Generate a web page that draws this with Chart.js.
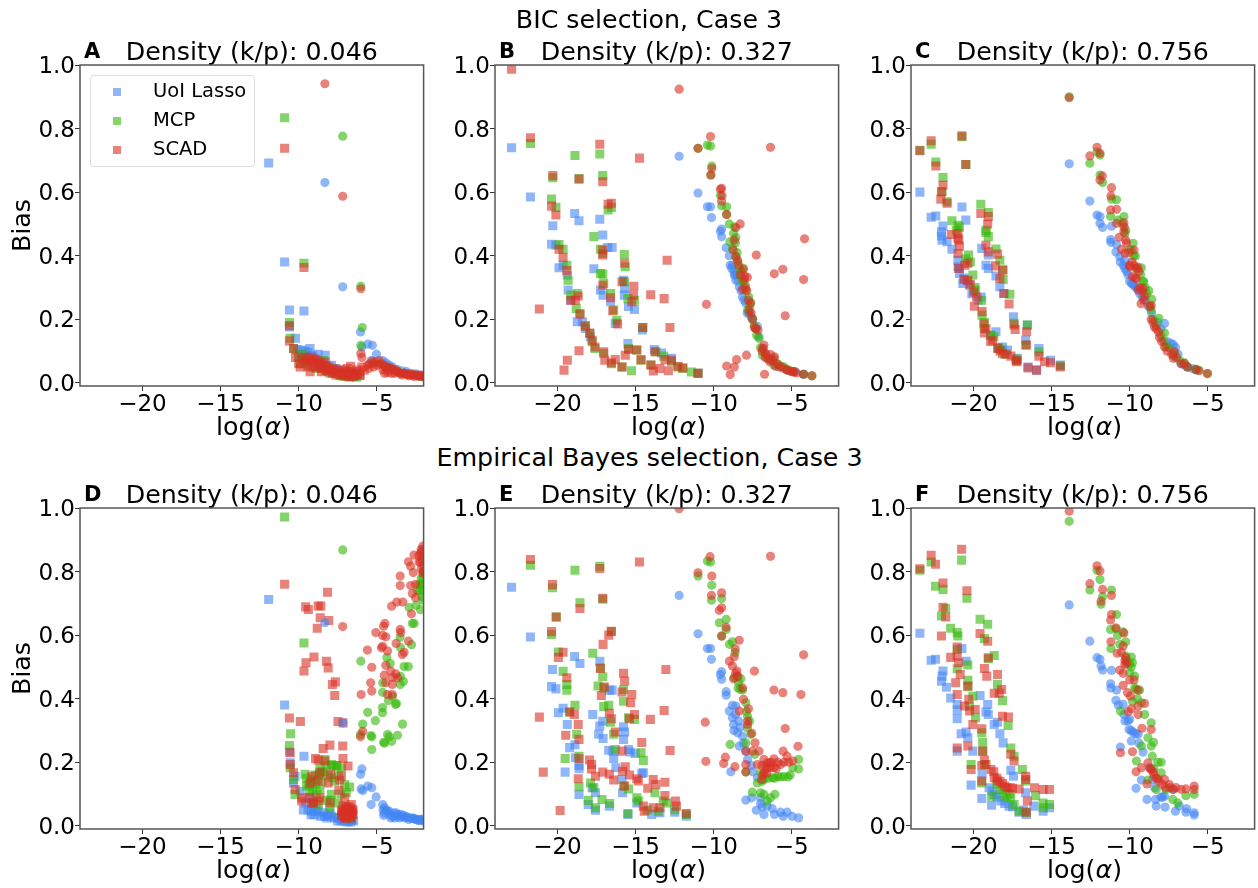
<!DOCTYPE html>
<html>
<head>
<meta charset="utf-8">
<title>Bias vs log(alpha)</title>
<script src="https://cdn.jsdelivr.net/npm/chart.js@4/dist/chart.umd.min.js"></script>
<style>
  html, body { margin: 0; padding: 0; background: #fff; }
  #page { position: relative; width: 1258px; height: 888px; overflow: hidden; font-family: 'DejaVu Sans', sans-serif; color: #000; }
  #page canvas { position: absolute; }
  .txt { position: absolute; white-space: nowrap; }
  .heading { font-size: 25.3px; line-height: 30px; transform: translateX(-50%); }
  .letter { font-size: 21px; line-height: 25px; font-weight: bold; }
  #legend { position: absolute; left: 90px; top: 75px; width: 163px; height: 90px; border: 1px solid #ddd; border-radius: 4px; background: rgba(255,255,255,.8); }
  .swatch { position: absolute; left: 22px; width: 8px; height: 8px; }
  .legtxt { position: absolute; left: 62px; font-size: 19.5px; line-height: 24px; white-space: nowrap; }
</style>
</head>
<body>
<div id="page"></div>
<script>
// Axis setup
const xRange = [-24, -2];
const yRange = [-0.01, 1];
const xTicks = [-20, -15, -10, -5];
const yTicks = [0, 0.2, 0.4, 0.6, 0.8, 1];
const seriesNames = ['UoI Lasso', 'MCP', 'SCAD'];
const seriesColors = ['rgba(66,133,244,0.6)', 'rgba(52,184,8,0.6)', 'rgba(217,48,37,0.6)'];
const densities = ['0.046', '0.327', '0.756', '0.046', '0.327', '0.756'];
const letters = ['A', 'B', 'C', 'D', 'E', 'F'];
const rowTitles = ['BIC selection, Case 3', 'Empirical Bayes selection, Case 3'];

// Panel A, [log(alpha), bias]
const aUoiSq = [[-11.92,.692],[-10.9,.38],[-10.59,.229],[-9.66,.226],[-10.59,.176],[-10.2,.14],[-10.1,.105],[-9.8,.103],[-9.6,.1],[-9.27,.108],[-9.4,.095],[-9.1,.085],[-8.75,.09],[-8.9,.075],[-8.6,.07],[-8.3,.087],[-8.2,.055],[-7.9,.055],[-7.6,.045],[-7.2,.035],[-6.9,.03],[-6.6,.028],[-6.3,.03],[-9.95,.09],[-9.7,.085],[-9.45,.08],[-9.2,.07],[-8.95,.06],[-8.7,.055],[-8.45,.05],[-8.05,.045],[-7.75,.04],[-7.4,.03],[-7,.025],[-6.45,.025]];
const aMcpSq = [[-10.9,.834],[-9.66,.376],[-10.59,.19],[-10.55,.14],[-10.33,.108],[-10,.08],[-9.8,.09],[-9.5,.075],[-9.2,.07],[-8.8,.065],[-8.4,.07],[-8.1,.045],[-7.8,.035],[-7.5,.03],[-7.2,.025],[-6.9,.022],[-6.5,.02],[-6.1,.022],[-9.9,.06],[-9.6,.06],[-9.35,.055],[-9.05,.05],[-8.85,.045],[-8.6,.05],[-8.3,.04],[-8,.03],[-7.7,.03],[-7.35,.022],[-7.05,.02],[-6.75,.018],[-6.3,.018]];
const aScadSq = [[-10.9,.738],[-9.66,.363],[-10.59,.18],[-10.59,.132],[-10.33,.108],[-10.2,.08],[-9.9,.05],[-9.6,.08],[-9.3,.07],[-9.27,.035],[-9,.075],[-8.7,.065],[-8.5,.045],[-8.3,.065],[-8.2,.04],[-7.9,.04],[-7.6,.035],[-7.2,.03],[-7,.028],[-6.9,.045],[-6.67,.052],[-6.7,.03],[-6.4,.025],[-6.1,.035],[-5.8,.04],[-10,.06],[-9.75,.075],[-9.5,.065],[-9.4,.05],[-9.2,.08],[-9.1,.06],[-8.95,.05],[-8.85,.07],[-8.75,.05],[-8.6,.06],[-8.55,.035],[-8.4,.055],[-8.25,.05],[-8.1,.035],[-8.05,.05],[-7.85,.03],[-7.75,.045],[-7.6,.025],[-7.45,.04],[-7.35,.025],[-7.15,.04],[-7.1,.022],[-6.95,.035],[-6.8,.02],[-6.6,.035],[-6.55,.02],[-6.3,.04],[-6.25,.025],[-6.05,.025],[-5.95,.05]];
const aUoiCi = [[-8.32,.63],[-7.18,.302],[-6.04,.16],[-5.95,.113],[-5.57,.122],[-5.28,.118],[-5.02,.09],[-5.36,.07],[-4.62,.07],[-4.4,.062],[-4.2,.055],[-4,.05],[-3.7,.042],[-3.4,.038],[-3.1,.035],[-2.8,.03],[-2.5,.028],[-2.2,.024],[-2,.02]];
const aMcpCi = [[-7.18,.776],[-6.02,.304],[-5.93,.174],[-6.02,.118],[-5.2,.06],[-4.8,.06],[-4.5,.05],[-4.2,.045],[-3.9,.04],[-3.6,.034],[-3.3,.03],[-3,.026],[-2.7,.024],[-2.4,.022],[-2.1,.019]];
const aScadCi = [[-8.32,.941],[-7.18,.587],[-6.02,.296],[-6.02,.092],[-5.95,.08],[-5.6,.055],[-5.3,.068],[-5.1,.065],[-4.7,.06],[-4.6,.04],[-4.4,.05],[-4.3,.032],[-4.1,.045],[-3.8,.04],[-3.6,.032],[-3.3,.03],[-3,.028],[-2.8,.025],[-2.5,.024],[-2.2,.021],[-2,.02],[-5.5,.045],[-5.45,.06],[-5.2,.05],[-4.95,.055],[-4.85,.07],[-4.55,.055],[-4.5,.03],[-4.35,.04],[-4.2,.048],[-4.05,.03],[-3.95,.042],[-3.85,.03],[-3.7,.036],[-3.5,.03],[-3.4,.025],[-3.2,.03],[-3.1,.026],[-2.95,.022],[-2.7,.026],[-2.6,.02],[-2.4,.024],[-2.3,.02],[-2.1,.024]];

// Panel B
const bUoiSq = [[-22.94,.74],[-21.73,.585],[-20.3,.494],[-20.38,.436],[-20.1,.433],[-19.9,.362],[-19.64,.37],[-19.37,.339],[-19.32,.292],[-19.15,.26],[-18.73,.192],[-18.4,.192],[-18.9,.533],[-18.62,.51],[-17.29,.515],[-17.1,.465],[-16.78,.426],[-16.5,.426],[-17.67,.359],[-17.25,.292],[-17.08,.276],[-16.6,.255],[-16.3,.187],[-15.77,.323],[-15.7,.297],[-15.72,.276],[-15.45,.24],[-15.07,.231],[-15.49,.124],[-14.56,.166],[-13.8,.105],[-13.34,.094],[-12.7,.077],[-11,.03],[-18.2,.171],[-17.9,.145]];
const bMcpSq = [[-21.73,.753],[-20.3,.645],[-20.38,.578],[-20.1,.552],[-19.9,.435],[-19.64,.42],[-19.4,.37],[-19.32,.323],[-19.15,.276],[-18.73,.281],[-18.8,.234],[-18.56,.218],[-18.88,.715],[-18.62,.643],[-17.29,.72],[-17.1,.652],[-16.76,.544],[-16.55,.552],[-17.67,.46],[-17.25,.42],[-17.1,.407],[-17.25,.344],[-17.1,.342],[-17.04,.313],[-16.6,.281],[-16.4,.229],[-16.2,.197],[-15.72,.404],[-15.66,.365],[-15.7,.318],[-15.49,.265],[-15.07,.26],[-14.54,.174],[-15.26,.038],[-11.43,.034],[-11,.03],[-18.2,.18],[-17.93,.155],[-17.78,.129],[-17.6,.108],[-17.04,.092],[-16.55,.06],[-15.87,.05],[-15.45,.108],[-14.92,.103],[-14.65,.071],[-14,.056],[-13.7,.098],[-13.2,.084],[-12.7,.066],[-12.3,.05],[-12,.045]];
const bScadSq = [[-22.94,.987],[-21.73,.771],[-20.3,.652],[-20.38,.556],[-20.1,.528],[-21.16,.232],[-19.9,.42],[-19.64,.395],[-19.4,.353],[-19.58,.04],[-19.37,.071],[-18.62,.101],[-19.15,.26],[-18.67,.273],[-18.85,.26],[-18.56,.216],[-18.62,.641],[-17.29,.751],[-17.1,.633],[-16.55,.565],[-16.76,.562],[-14.75,.707],[-17.1,.418],[-17.1,.402],[-17.1,.307],[-16.6,.268],[-16.46,.227],[-16.15,.185],[-15.87,.318],[-15.7,.376],[-15.11,.304],[-15.13,.276],[-15.24,.255],[-14.03,.277],[-13.17,.265],[-12.98,.386],[-12.8,.174],[-14.54,.174],[-15.66,.087],[-16.3,.073],[-15.87,.05],[-17.93,.157],[-18.24,.178],[-17.78,.134],[-17.6,.113],[-17.04,.098],[-16.97,.071],[-16.55,.063],[-15.45,.105],[-14.92,.103],[-14.65,.073],[-14.03,.056],[-13.76,.098],[-13.86,.037],[-13.45,.045],[-12.9,.038],[-13.12,.073],[-12.7,.071],[-12.28,.052],[-11.96,.047],[-11,.03]];
const bUoiCi = [[-12.21,.713],[-11,.597],[-10.4,.554],[-10.2,.554],[-10.14,.52],[-9.57,.477],[-9.49,.484],[-9.49,.46],[-9.2,.425],[-8.94,.37],[-8.8,.37],[-8.68,.339],[-8.58,.323],[-8.36,.302],[-8.15,.27],[-7.94,.25],[-7.73,.218],[-7.62,.21],[-7.2,.178],[-7.1,.145],[-6.8,.108],[-6.36,.077],[-5.83,.05],[-5.3,.04],[-4.77,.035],[-4.24,.027],[-9,.4],[-8.85,.36],[-8.7,.35],[-8.6,.34],[-8.4,.32],[-8.25,.29],[-8.05,.26],[-7.85,.22],[-7.5,.2],[-7.3,.17]];
const bMcpCi = [[-11,.738],[-10.4,.748],[-10.2,.745],[-10.12,.682],[-10.18,.654],[-9.57,.59],[-9.49,.557],[-9.17,.554],[-9.17,.53],[-8.68,.491],[-8.72,.47],[-8.58,.457],[-8.96,.444],[-8.8,.423],[-8.58,.397],[-8.36,.36],[-8.09,.36],[-8.26,.334],[-7.94,.292],[-7.62,.252],[-7.83,.229],[-7.52,.203],[-7.31,.171],[-7.1,.14],[-6.88,.087],[-6.57,.077],[-6.14,.077],[-6.14,.056],[-5.5,.05],[-4.87,.035],[-4.24,.027],[-3.71,.022],[-9,.5],[-8.6,.44],[-8.5,.41],[-8.45,.38],[-8.25,.35],[-8.15,.32],[-8,.31],[-7.75,.27],[-7.7,.24],[-7.4,.18],[-7.25,.15],[-7,.11],[-6.7,.09],[-6.3,.07],[-5.9,.06],[-5.7,.052],[-5.3,.042],[-5.1,.038]];
const bScadCi = [[-12.21,.924],[-11,.738],[-10.2,.775],[-10.12,.675],[-10.18,.654],[-9.57,.609],[-9.49,.612],[-9.46,.589],[-9.49,.572],[-9.17,.53],[-8.3,.5],[-8.58,.488],[-8.68,.449],[-8.75,.418],[-8.58,.397],[-8.47,.386],[-8.11,.357],[-7.84,.332],[-8.05,.325],[-8.15,.294],[-7.88,.29],[-7.77,.26],[-7.73,.227],[-7.52,.2],[-7.31,.171],[-7.16,.166],[-6.78,.119],[-6.88,.108],[-6.67,.092],[-6.36,.089],[-6.1,.082],[-6.4,.066],[-6.04,.052],[-5.5,.045],[-4.87,.035],[-4.7,.031],[-4.24,.027],[-3.71,.022],[-10.46,.247],[-9.17,.053],[-8.68,.05],[-8.53,.073],[-8.94,.026],[-7.9,.087],[-6.74,.027],[-6.36,.741],[-4.18,.453],[-7.27,.402],[-6.12,.343],[-5.57,.357],[-4.24,.325],[-5.42,.211],[-8.4,.37],[-8.3,.34],[-8,.335],[-7.95,.3],[-7.65,.25],[-7.6,.22],[-7.4,.175],[-6.9,.1],[-6.7,.08],[-6.5,.075],[-6.2,.07],[-5.9,.058],[-5.7,.05],[-5.3,.04],[-5.1,.037],[-4.95,.034]];

// Panel C
const cUoiSq = [[-23.43,.6],[-22.71,.521],[-22.41,.525],[-21.95,.493],[-22.05,.475],[-22.01,.449],[-22.05,.462],[-21.69,.444],[-21.38,.42],[-20.74,.553],[-20.49,.512],[-20.99,.386],[-20.99,.365],[-20.89,.344],[-20.68,.313],[-20.25,.307],[-19.51,.27],[-19.47,.423],[-19.05,.402],[-19.2,.37],[-19.05,.36],[-18.56,.336],[-18.31,.302],[-18.03,.281],[-17.44,.208],[-18.56,.161],[-18.14,.113],[-17.82,.103],[-17.19,.077],[-16.55,.182],[-16.66,.134],[-15.81,.108],[-15.07,.071],[-14.44,.056],[-16.51,.05],[-15.96,.04],[-20.9,.36],[-20.6,.33],[-20.4,.32],[-20.1,.28],[-19.7,.26],[-18.9,.15],[-18.4,.11]];
const cMcpSq = [[-23.43,.732],[-22.71,.751],[-22.41,.695],[-21.95,.646],[-22.01,.601],[-21.69,.57],[-21.38,.51],[-20.99,.496],[-20.74,.774],[-20.49,.687],[-19.53,.562],[-19.05,.536],[-19.2,.473],[-19.05,.46],[-18.56,.421],[-18.31,.386],[-18.1,.355],[-18.1,.325],[-17.67,.279],[-20.32,.402],[-20.04,.339],[-19.89,.292],[-19.47,.26],[-19.45,.213],[-19.3,.171],[-18.7,.145],[-18.24,.103],[-17.4,.187],[-16.55,.182],[-16.66,.119],[-15.81,.098],[-17.19,.071],[-14.44,.054],[-21.1,.48],[-20.9,.49],[-20.5,.39],[-20.2,.38],[-19.9,.3],[-19.3,.19],[-18.9,.15],[-18.4,.11],[-18,.09],[-17.3,.075],[-19.2,.48]];
const cScadSq = [[-23.43,.73],[-22.71,.762],[-22.41,.682],[-21.95,.622],[-22.05,.601],[-22.09,.578],[-21.69,.565],[-21.42,.467],[-20.99,.47],[-20.95,.449],[-20.99,.407],[-20.74,.777],[-20.49,.687],[-19.53,.533],[-19.05,.523],[-19.09,.5],[-19.2,.433],[-19.05,.412],[-18.46,.405],[-18.6,.368],[-18.14,.355],[-18.31,.328],[-18.07,.281],[-17.72,.248],[-20.36,.376],[-20.95,.36],[-20.61,.325],[-20.36,.323],[-19.98,.286],[-19.94,.241],[-19.45,.224],[-19.34,.185],[-19.3,.157],[-18.77,.134],[-18.46,.108],[-18.14,.092],[-17.6,.084],[-17.23,.066],[-17.4,.182],[-17.33,.168],[-16.6,.161],[-16.6,.119],[-15.81,.084],[-16.51,.047],[-15.96,.04],[-15.45,.066],[-15.07,.063],[-14.44,.05],[-21,.455],[-20.9,.43],[-20.55,.37],[-20.2,.31],[-19.8,.27],[-19.2,.17],[-18.9,.13],[-18.3,.1],[-17.9,.09],[-17.25,.07]];
const cUoiCi = [[-13.87,.689],[-12.55,.572],[-12.09,.528],[-11.9,.523],[-11.9,.502],[-11.73,.489],[-11.16,.493],[-11.22,.451],[-11.2,.442],[-10.84,.435],[-10.88,.412],[-10.63,.397],[-10.31,.386],[-10.31,.36],[-9.89,.313],[-9.68,.304],[-9.46,.292],[-7.77,.187],[-7.35,.124],[-7.07,.111],[-6.5,.056],[-5.76,.04],[-10.6,.38],[-10.4,.37],[-10.2,.35],[-10.1,.34],[-10,.32],[-9.8,.31],[-9.55,.3],[-9.35,.28],[-9.2,.27],[-9,.26],[-8.8,.24],[-8.6,.22],[-8.2,.19],[-8,.17],[-7.6,.13],[-7.2,.12],[-6.9,.09],[-6.7,.06],[-6.3,.05],[-6,.045]];
const cMcpCi = [[-13.87,.9],[-12.55,.691],[-12.09,.727],[-11.9,.717],[-11.9,.654],[-11.73,.63],[-11.16,.578],[-10.84,.576],[-11.22,.524],[-10.73,.512],[-10.37,.523],[-10.25,.48],[-9.78,.439],[-9.89,.418],[-9.63,.399],[-9.25,.362],[-9.1,.318],[-8.77,.29],[-8.58,.263],[-8.62,.229],[-8.13,.203],[-7.77,.157],[-7.67,.113],[-7.14,.092],[-6.5,.063],[-5.76,.042],[-5.02,.029],[-10.45,.5],[-10.3,.47],[-10,.42],[-9.75,.4],[-9.55,.36],[-9.3,.34],[-9.15,.32],[-9,.3],[-8.9,.28],[-8.7,.24],[-8.5,.2],[-8.3,.18],[-8,.15],[-7.8,.13],[-7.5,.11],[-7.2,.085],[-6.8,.07],[-6.3,.05],[-5.6,.04]];
const cScadCi = [[-13.87,.897],[-12.55,.714],[-12.09,.741],[-11.9,.722],[-11.75,.651],[-11.9,.638],[-11.16,.614],[-11.2,.588],[-11.22,.544],[-10.84,.546],[-10.84,.502],[-10.67,.458],[-10.37,.504],[-10.37,.475],[-10.25,.449],[-10.52,.42],[-9.72,.418],[-10,.37],[-9.46,.363],[-9.82,.334],[-9.57,.328],[-9.14,.297],[-9.46,.292],[-9.04,.273],[-9.27,.249],[-8.62,.244],[-8.62,.199],[-8.41,.176],[-8.09,.143],[-7.77,.113],[-7.14,.098],[-7.2,.077],[-6.5,.061],[-5.76,.042],[-5.55,.038],[-5.02,.029],[-10.3,.408],[-10,.365],[-10.35,.49],[-10.2,.44],[-10.05,.41],[-9.85,.38],[-9.7,.37],[-9.6,.36],[-9.4,.35],[-9.65,.33],[-9.35,.3],[-9.2,.29],[-9.1,.26],[-8.7,.24],[-8.5,.19],[-8.3,.17],[-8.15,.16],[-7.95,.13],[-7.6,.1],[-7.3,.09],[-7,.08],[-6.7,.06],[-6.3,.05]];

// Panel D
const dUoiSq = [[-11.92,.712],[-10.9,.38],[-10.59,.232],[-9.66,.219],[-10.54,.198],[-10.23,.156],[-10.33,.135],[-9.9,.109],[-9.59,.072],[-9.17,.046],[-9.27,.088],[-8.75,.046],[-8.43,.041],[-7.9,.03],[-7.16,.02],[-6.63,.017],[-6.48,.015],[-7.05,.015],[-9.06,.062],[-8.11,.032],[-7.5,.025],[-9.7,.05],[-9.4,.05],[-9.2,.035],[-9,.035],[-8.9,.05],[-8.6,.03],[-8.35,.03],[-8.2,.025],[-8,.04],[-7.7,.025],[-7.5,.015],[-7.3,.015],[-6.9,.012],[-6.7,.012],[-6.6,.02]];
const dMcpSq = [[-10.9,.972],[-9.66,.575],[-10.52,.29],[-10.59,.253],[-10.54,.183],[-10.33,.146],[-10.23,.099],[-9.59,.162],[-9.49,.125],[-9.06,.072],[-9.06,.145],[-8.64,.183],[-8.32,.209],[-7.9,.193],[-7.58,.188],[-7.26,.183],[-7.9,.151],[-7.05,.13],[-6.74,.122],[-6.95,.104],[-7.9,.099],[-8.64,.114],[-8,.057],[-7.48,.072],[-7.16,.041],[-6.63,.03],[-6.84,.025],[-8.75,.068],[-9.3,.11],[-9.2,.14],[-8.9,.13],[-8.85,.1],[-8.5,.14],[-8.45,.17],[-8.2,.19],[-8.1,.16],[-7.7,.14],[-7.45,.16],[-6.95,.05],[-6.7,.035],[-7.3,.1],[-9.5,.15],[-9.35,.13],[-9.1,.115],[-8.95,.16],[-8.7,.16],[-8.55,.17],[-8.2,.08],[-7.95,.08],[-7.55,.19],[-7.8,.19]];
const dScadSq = [[-10.9,.76],[-8.15,.735],[-9.55,.689],[-9.38,.681],[-8.75,.692],[-8.58,.692],[-8.62,.655],[-8.07,.646],[-8.81,.622],[-9.02,.531],[-9.53,.513],[-9.66,.487],[-8.22,.518],[-8.11,.497],[-7.65,.453],[-7.84,.445],[-7.69,.41],[-7.48,.328],[-7.16,.324],[-10.59,.339],[-9.89,.328],[-10.54,.23],[-8.43,.243],[-8,.254],[-7.18,.251],[-7.16,.212],[-8.92,.212],[-8.75,.207],[-8.32,.204],[-6.84,.188],[-10.54,.193],[-10.33,.167],[-10.23,.114],[-9.17,.156],[-9.27,.135],[-8.64,.167],[-8.75,.141],[-7.96,.162],[-8.11,.135],[-7.26,.156],[-7.37,.144],[-7.43,.112],[-9.8,.078],[-9.8,.088],[-9.27,.088],[-9.17,.072],[-8.64,.088],[-8.75,.078],[-9.06,.072],[-8,.072],[-7.05,.088],[-7.16,.062],[-6.63,.067],[-6.95,.051],[-6.52,.051],[-7.26,.046],[-6.84,.036],[-6.52,.036],[-7.05,.025],[-7.26,.033],[-6.63,.025],[-6.95,.06],[-6.75,.045],[-7.2,.05],[-7.1,.04],[-7,.055],[-6.9,.035],[-6.85,.05],[-6.8,.06],[-6.7,.03],[-6.65,.055],[-6.6,.04],[-7.15,.03],[-7,.03],[-6.95,.025],[-6.7,.045],[-6.55,.045]];
const dUoiCi = [[-8.32,.639],[-7.16,.324],[-6.04,.162],[-5.95,.179],[-6,.116],[-5.89,.111],[-5.57,.125],[-5.32,.12],[-5.04,.091],[-5.36,.067],[-4.62,.067],[-4.51,.057],[-4.56,.033],[-4.2,.046],[-3.98,.03],[-3.77,.041],[-3.46,.036],[-3.14,.03],[-2.82,.025],[-2.5,.02],[-2.2,.02],[-2.05,.018],[-4.4,.05],[-3.6,.03],[-3.3,.033],[-2.65,.024],[-4.6,.05],[-4.5,.04],[-4.3,.045],[-4.15,.035],[-4.1,.025],[-3.9,.04],[-3.85,.025],[-3.65,.035],[-3.55,.025],[-3.4,.03],[-3.2,.025],[-3.05,.027],[-2.95,.02],[-2.75,.023],[-2.6,.022],[-2.4,.02],[-2.35,.017],[-2.25,.017],[-2.1,.02],[-2.02,.015]];
const dMcpCi = [[-7.18,.868],[-6.02,.518],[-3.5,.593],[-2.93,.687],[-2.49,.694],[-2.72,.637],[-2.6,.637],[-2.77,.57],[-3.48,.561],[-4.35,.53],[-4.14,.511],[-3.25,.501],[-2.98,.501],[-3.48,.47],[-3.29,.454],[-3.5,.445],[-4.62,.45],[-4.62,.42],[-4,.407],[-4.25,.394],[-3.74,.385],[-2.2,.76],[-2.05,.78],[-2.1,.72],[-2.05,.74],[-2.25,.74],[-5.58,.357],[-4.63,.356],[-5.9,.32],[-5.09,.331],[-3.35,.32],[-6.04,.287],[-5.37,.284],[-5.32,.28],[-4.31,.287],[-3.67,.285],[-4.56,.263],[-4.05,.266],[-5.32,.24],[-3.8,.382],[-4.63,.372],[-4.2,.28],[-4.5,.26],[-2.2,.68],[-2.1,.76],[-2.02,.8],[-2.15,.78],[-2.05,.71],[-2.4,.74],[-2.3,.76]];
const dScadCi = [[-7.18,.627],[-4.48,.637],[-4.56,.628],[-5.06,.608],[-4.62,.599],[-4.42,.595],[-3.5,.618],[-3.47,.608],[-3.76,.574],[-2.97,.581],[-4.62,.565],[-4.7,.56],[-4.31,.55],[-5.6,.553],[-3.25,.546],[-3.36,.539],[-5.32,.499],[-4.42,.505],[-4.1,.487],[-3.78,.478],[-4.52,.474],[-3.99,.467],[-3.67,.466],[-5.39,.45],[-4.42,.45],[-4,.445],[-5.32,.424],[-6,.413],[-4.31,.413],[-4,.413],[-5.9,.297],[-6.04,.28],[-4.05,.691],[-3.72,.704],[-3.33,.704],[-2.78,.667],[-2.72,.731],[-2.51,.718],[-3.5,.756],[-3.5,.786],[-2.83,.756],[-2.51,.76],[-2.97,.831],[-2.83,.817],[-2.62,.852],[-2.66,.797],[-2.2,.858],[-2.1,.84],[-2.05,.85],[-2.02,.82],[-2.15,.81],[-2.05,.795],[-2.3,.83],[-2.2,.83],[-2.1,.865],[-2.05,.88],[-2.15,.87],[-2.02,.8],[-2.3,.85]];

// Panel E
const eUoiSq = [[-22.94,.751],[-21.73,.594],[-20.32,.492],[-20.38,.438],[-20.1,.431],[-19.94,.356],[-19.64,.37],[-19.37,.319],[-19.51,.169],[-19.22,.246],[-18.88,.255],[-18.9,.533],[-18.56,.511],[-17.29,.518],[-17.74,.35],[-17.1,.329],[-17.29,.314],[-17.36,.288],[-17.08,.275],[-16.68,.427],[-16.5,.427],[-16.72,.238],[-16.45,.235],[-16.4,.211],[-16.26,.183],[-15.77,.312],[-15.7,.295],[-15.77,.272],[-15.45,.24],[-15.35,.232],[-15.03,.228],[-14.6,.165],[-14.5,.167],[-15.87,.146],[-15.83,.104],[-18.62,.19],[-18.84,.214],[-18.62,.099],[-17.78,.12],[-17.57,.104],[-18.03,.067],[-17.57,.049],[-16.68,.062],[-15.49,.036],[-14.92,.072],[-13.97,.036],[-13.44,.041],[-12.49,.043],[-11.75,.03],[-18.62,.18]];
const eMcpSq = [[-21.73,.82],[-20.32,.749],[-20.08,.657],[-20.38,.602],[-19.94,.547],[-19.64,.486],[-19.4,.445],[-19.4,.427],[-18.88,.379],[-19.22,.358],[-18.77,.288],[-18.56,.702],[-18.88,.804],[-17.29,.817],[-17.1,.713],[-16.55,.611],[-17.74,.543],[-17.25,.497],[-17.1,.469],[-17.4,.44],[-17.04,.434],[-16.72,.379],[-17.04,.375],[-16.6,.326],[-16.4,.288],[-16.3,.24],[-15.77,.392],[-15.77,.429],[-15.45,.34],[-15.07,.335],[-14.65,.23],[-14.5,.206],[-19.51,.212],[-18.62,.219],[-18.62,.123],[-18.03,.08],[-17.57,.057],[-17.15,.083],[-16.66,.07],[-17.88,.135],[-17.67,.12],[-15.77,.125],[-15.45,.116],[-15.49,.039],[-14.92,.088],[-14.82,.078],[-13.76,.104],[-13.23,.078],[-13,.072],[-12.49,.051],[-11.75,.036],[-13.55,.046],[-14.25,.05]];
const eScadSq = [[-21.73,.838],[-20.32,.759],[-20.08,.657],[-20.38,.611],[-19.64,.546],[-19.94,.53],[-19.4,.466],[-21.16,.342],[-20.91,.169],[-19.22,.358],[-18.92,.35],[-18.67,.319],[-19.47,.285],[-18.62,.272],[-19.83,.048],[-18.67,.148],[-18.62,.211],[-18.56,.684],[-17.29,.81],[-17.1,.716],[-16.72,.6],[-16.55,.612],[-17.08,.571],[-14.75,.83],[-17.25,.495],[-13.06,.492],[-17,.437],[-17.19,.41],[-16.68,.354],[-16.55,.337],[-16.3,.295],[-15.87,.421],[-15.77,.48],[-15.7,.456],[-15.24,.413],[-15.32,.387],[-15.07,.35],[-15.39,.337],[-14.05,.335],[-13.17,.363],[-14.6,.262],[-12.79,.237],[-15.87,.235],[-15.66,.186],[-15.83,.172],[-17.95,.207],[-17.82,.193],[-17.82,.179],[-17.57,.156],[-17.1,.169],[-16.68,.162],[-16.4,.144],[-15.39,.16],[-14.92,.148],[-14.82,.141],[-15.7,.125],[-13.87,.146],[-13.7,.13],[-14.22,.118],[-13.12,.137],[-13.12,.095],[-14.5,.062],[-14.44,.046],[-13.87,.057],[-13.44,.057],[-12.45,.078],[-12.38,.062],[-11.75,.039]];
const eUoiCi = [[-12.21,.725],[-11,.604],[-10.4,.558],[-10.2,.558],[-10.14,.524],[-9.57,.476],[-9.49,.485],[-9.49,.461],[-9.2,.422],[-9.2,.411],[-8.8,.379],[-8.58,.377],[-9,.361],[-8.8,.34],[-8.72,.319],[-8.47,.293],[-8.15,.282],[-8.36,.251],[-7.94,.235],[-7.83,.209],[-8.9,.17],[-7.2,.151],[-7.94,.081],[-7.56,.088],[-7.27,.049],[-7,.088],[-6.78,.036],[-6.57,.062],[-6.25,.054],[-6.1,.036],[-5.72,.043],[-5.55,.03],[-5.3,.043],[-4.98,.03],[-4.56,.025],[-8.6,.35],[-8.4,.33],[-8.3,.31],[-8.7,.3],[-8.1,.26],[-7.6,.19],[-7.5,.17],[-7,.07],[-6.9,.06]];
const eMcpCi = [[-11,.786],[-10.4,.833],[-10.2,.83],[-10.12,.757],[-10.14,.71],[-9.49,.715],[-9.64,.639],[-9.2,.65],[-9.2,.618],[-9.49,.597],[-8.99,.571],[-8.8,.579],[-8.62,.545],[-8.68,.466],[-8.26,.463],[-8.43,.434],[-8.15,.427],[-7.94,.387],[-7.83,.345],[-7.83,.308],[-7.62,.288],[-7.94,.261],[-7.37,.225],[-8.94,.256],[-7.94,.169],[-7,.167],[-6.78,.146],[-7.2,.135],[-6.25,.151],[-5.72,.154],[-5.25,.154],[-4.93,.183],[-4.56,.209],[-4.56,.179],[-7.52,.106],[-7,.104],[-6.78,.099],[-6.57,.078],[-6.08,.099],[-6.36,.088],[-6.5,.15],[-6.1,.15],[-5.9,.155],[-5.5,.155],[-5.1,.16],[-6.9,.14],[-8.5,.47],[-8.4,.45],[-8.3,.43],[-7.7,.33],[-7.9,.36]];
const eScadCi = [[-12.21,.998],[-11,.796],[-10.23,.847],[-10.12,.786],[-10.14,.725],[-9.49,.733],[-9.49,.686],[-9.64,.678],[-9.2,.625],[-9.49,.597],[-8.36,.584],[-8.62,.557],[-8.68,.532],[-8.99,.518],[-8.8,.503],[-8.51,.487],[-8.72,.463],[-7.39,.487],[-8.15,.434],[-8.09,.398],[-7.77,.368],[-8.36,.361],[-7.83,.33],[-7.83,.319],[-7.56,.291],[-7.35,.261],[-7.94,.235],[-7.52,.235],[-7.1,.235],[-10.54,.326],[-10.5,.203],[-9.25,.216],[-9.36,.196],[-8.64,.186],[-7.94,.193],[-7.94,.17],[-7.2,.193],[-6.78,.209],[-6.57,.198],[-6.14,.211],[-6.36,.183],[-6.78,.167],[-6.92,.146],[-6.14,.183],[-5.72,.193],[-5.55,.235],[-5.3,.219],[-4.93,.204],[-4.6,.25],[-5.42,.306],[-6.36,.848],[-4.24,.538],[-4.41,.413],[-6.14,.427],[-5.57,.419],[-6.67,.188],[-6.4,.198],[-6.9,.19],[-6.6,.18],[-6.3,.2],[-6,.18],[-5.9,.2],[-5.5,.2],[-5.2,.2],[-6.85,.16],[-6.6,.165],[-8.6,.48],[-8.45,.47]];

// Panel F
const fUoiSq = [[-23.43,.606],[-22.71,.521],[-22.43,.524],[-21.95,.487],[-22.01,.471],[-22.05,.455],[-21.73,.436],[-21.46,.402],[-20.74,.558],[-20.47,.518],[-21.04,.382],[-21.04,.364],[-21.04,.337],[-20.79,.29],[-20.47,.295],[-20.36,.277],[-20.04,.235],[-21.04,.235],[-19.58,.41],[-19.09,.382],[-19.2,.358],[-19.05,.35],[-18.67,.319],[-18.46,.326],[-18.31,.29],[-18.1,.261],[-17.61,.175],[-17.44,.156],[-20.15,.128],[-19.45,.162],[-19.47,.086],[-18.84,.065],[-18.67,.099],[-18.24,.078],[-17.72,.062],[-17.08,.043],[-16.66,.104],[-16.62,.036],[-16.13,.062],[-15.54,.046],[-15.13,.057],[-19,.12],[-18.8,.11],[-18.5,.09],[-18,.07],[-17.5,.06],[-16.8,.05]];
const fMcpSq = [[-23.43,.804],[-22.71,.83],[-22.43,.754],[-21.95,.744],[-21.78,.684],[-22.05,.66],[-21.46,.622],[-21.04,.608],[-21,.597],[-20.76,.836],[-20.42,.716],[-19.58,.65],[-19.09,.634],[-19.3,.589],[-18.67,.536],[-19.05,.526],[-21.04,.555],[-21.04,.494],[-20.36,.506],[-20.36,.458],[-20.36,.438],[-20.04,.408],[-20.25,.377],[-19.87,.34],[-19.47,.293],[-19.41,.263],[-19.41,.235],[-20.15,.193],[-18.46,.445],[-18.14,.394],[-17.78,.316],[-17.61,.245],[-17.4,.219],[-16.87,.177],[-16.66,.141],[-19.47,.135],[-19.3,.193],[-18.84,.093],[-18.24,.114],[-17.61,.088],[-17.4,.067],[-17.08,.046],[-16.62,.043],[-16.02,.095],[-15.54,.072],[-15.13,.067],[-15.54,.057],[-18.5,.13],[-18.1,.1],[-17.9,.09],[-17.7,.1]];
const fScadSq = [[-23.43,.809],[-22.71,.851],[-22.43,.823],[-21.95,.764],[-21.95,.688],[-21.78,.657],[-22.05,.597],[-20.76,.87],[-20.42,.74],[-19.58,.605],[-19.09,.581],[-19.05,.529],[-21.46,.53],[-21.04,.563],[-21.04,.534],[-20.95,.513],[-20.85,.476],[-21.14,.45],[-21.04,.413],[-20.36,.44],[-20.3,.398],[-19.3,.495],[-19.15,.471],[-18.46,.476],[-18.67,.417],[-18.35,.417],[-18.2,.429],[-18.14,.345],[-17.76,.342],[-19.47,.305],[-20.57,.377],[-20.25,.361],[-19.89,.366],[-20.04,.319],[-21.04,.245],[-20.36,.251],[-19.41,.235],[-20.15,.177],[-19.3,.207],[-19.47,.19],[-19.2,.193],[-18.88,.177],[-19.47,.141],[-18.67,.151],[-18.46,.141],[-18.14,.133],[-17.61,.225],[-17.4,.204],[-17.65,.12],[-17.08,.116],[-16.66,.156],[-16.66,.146],[-16.55,.078],[-16.62,.043],[-16.09,.12],[-15.54,.114],[-15.13,.114],[-18.7,.17],[-18.5,.15],[-18.3,.14],[-18,.125],[-17.85,.12],[-17.5,.118]];
const fUoiCi = [[-13.87,.695],[-12.55,.581],[-12.09,.529],[-11.9,.524],[-11.83,.503],[-11.73,.49],[-11.16,.489],[-11.22,.447],[-11.2,.434],[-10.84,.427],[-10.88,.395],[-10.73,.38],[-10.42,.382],[-10.37,.35],[-10,.335],[-10.04,.303],[-9.78,.295],[-9.46,.288],[-9.89,.267],[-9.14,.232],[-10.59,.248],[-8.72,.183],[-8.51,.146],[-9.25,.144],[-9.59,.118],[-8.89,.083],[-8.34,.083],[-8.3,.062],[-7.77,.093],[-7.73,.059],[-7.24,.114],[-7.07,.046],[-6.82,.062],[-6.35,.054],[-6.4,.043],[-5.87,.041],[-5.87,.034],[-10.3,.33],[-10.1,.33],[-9.9,.3],[-9.6,.29],[-9.4,.26],[-8.4,.12],[-8,.09],[-7.9,.09]];
const fMcpCi = [[-13.87,.958],[-12.55,.742],[-12.09,.804],[-11.9,.775],[-11.73,.721],[-11.83,.697],[-11.16,.742],[-10.84,.665],[-11.22,.618],[-10.88,.62],[-10.78,.599],[-11.2,.558],[-10.42,.61],[-10.63,.571],[-10.25,.579],[-9.89,.531],[-9.82,.513],[-10.25,.534],[-10,.482],[-9.68,.471],[-9.68,.434],[-9.36,.427],[-9.82,.392],[-9.25,.387],[-9.04,.35],[-8.62,.324],[-8.83,.277],[-8.47,.263],[-9.25,.251],[-8.62,.251],[-8.55,.219],[-9.57,.204],[-8.2,.2],[-7.98,.2],[-7.98,.167],[-8.83,.144],[-8.3,.114],[-7.67,.114],[-7.24,.083],[-6.92,.072],[-6.4,.095],[-5.87,.099],[-10.59,.361],[-10.2,.52],[-10,.51],[-9.9,.5],[-9.6,.43],[-9.5,.4],[-8.45,.18]];
const fScadCi = [[-13.87,.99],[-12.55,.762],[-12.09,.818],[-11.9,.802],[-11.73,.744],[-11.83,.707],[-11.16,.725],[-11.16,.665],[-11.22,.648],[-10.88,.623],[-10.37,.607],[-11.2,.579],[-10.42,.566],[-10.8,.543],[-10.52,.545],[-10.25,.529],[-10.31,.508],[-10.63,.49],[-10.42,.48],[-10,.459],[-9.72,.459],[-10.42,.442],[-10.14,.419],[-9.46,.427],[-9.95,.408],[-9.04,.385],[-9.46,.377],[-9.89,.368],[-10.1,.359],[-9.46,.35],[-9.21,.307],[-8.62,.303],[-10.59,.23],[-9.82,.233],[-9.59,.17],[-9.25,.183],[-8.83,.198],[-8.62,.177],[-8.89,.132],[-8.2,.148],[-7.77,.146],[-7.46,.13],[-7.03,.12],[-6.4,.116],[-5.87,.125],[-5.87,.114],[-10.3,.52],[-10.2,.51],[-8.7,.18],[-8.5,.17],[-8.3,.15],[-8.1,.14],[-7.9,.13],[-7.7,.12],[-7.4,.12],[-7.2,.115],[-6.7,.115],[-8.45,.16]];

const panelSquares = [[aUoiSq, aMcpSq, aScadSq], [bUoiSq, bMcpSq, bScadSq], [cUoiSq, cMcpSq, cScadSq], [dUoiSq, dMcpSq, dScadSq], [eUoiSq, eMcpSq, eScadSq], [fUoiSq, fMcpSq, fScadSq]];
const panelCircles = [[aUoiCi, aMcpCi, aScadCi], [bUoiCi, bMcpCi, bScadCi], [cUoiCi, cMcpCi, cScadCi], [dUoiCi, dMcpCi, dScadCi], [eUoiCi, eMcpCi, eScadCi], [fUoiCi, fMcpCi, fScadCi]];

const FONT = "'DejaVu Sans', sans-serif";
const page = document.getElementById('page');

// Top and right spines too, Chart.js only does the axis side
const framePlugin = {
    id: 'frame',
    afterDatasetsDraw(chart) {
        const { ctx, chartArea: a } = chart;
        ctx.save();
        ctx.strokeStyle = '#555';
        ctx.lineWidth = 1.5;
        ctx.strokeRect(a.left, a.top, a.right - a.left, a.bottom - a.top);
        ctx.restore();
    }
};

function addText(cls, html, left, top) {
    const el = document.createElement('div');
    el.className = 'txt ' + cls;
    el.innerHTML = html;
    el.style.left = left + 'px';
    el.style.top = top + 'px';
    page.appendChild(el);
}

function makeDatasets(lists, style, radius) {
    return lists.map((points, i) => ({
        label: seriesNames[i],
        data: points.map(p => ({ x: p[0], y: p[1] })),
        pointStyle: style,
        pointRadius: radius,
        pointBorderWidth: 0,
        backgroundColor: seriesColors[i],
        clip: 0
    }));
}

function drawPanel(index, plotLeft, plotTop) {
    const axisW = 80, plotW = 347, plotH = 321, titleH = 28, xAxisH = 50;
    const canvas = document.createElement('canvas');
    canvas.width = axisW + plotW + 3;
    canvas.height = titleH + plotH + xAxisH;
    canvas.style.left = (plotLeft - axisW) + 'px';
    canvas.style.top = (plotTop - titleH) + 'px';
    page.appendChild(canvas);

    // Chart.js paints the first dataset last, so reverse to get red on top
    const datasets = makeDatasets(panelSquares[index], 'rect', 6.4)
        .concat(makeDatasets(panelCircles[index], 'circle', 4.6))
        .reverse();

    new Chart(canvas.getContext('2d'), {
        type: 'scatter',
        data: { datasets },
        plugins: [framePlugin],
        options: {
            responsive: false,
            animation: false,
            devicePixelRatio: 1,
            layout: { padding: { right: 3 } },
            plugins: {
                legend: { display: false },
                tooltip: { enabled: false },
                title: {
                    display: true,
                    fullSize: false,
                    text: 'Density (k/p): ' + densities[index],
                    color: '#000',
                    font: { family: FONT, size: 25.3, weight: 'normal', lineHeight: 0.91 },
                    padding: { top: 5, bottom: 0 }
                }
            },
            scales: {
                x: {
                    type: 'linear',
                    min: xRange[0],
                    max: xRange[1],
                    afterFit: s => { s.height = xAxisH; },
                    afterBuildTicks: s => { s.ticks = xTicks.map(value => ({ value })); },
                    border: { display: false },
                    grid: { drawOnChartArea: false, tickLength: 5, tickColor: '#333' },
                    ticks: {
                        color: '#000',
                        padding: 0,
                        maxRotation: 0,
                        autoSkip: false,
                        font: { family: FONT, size: 23 },
                        callback: v => String(v).replace('-', '\u2212')
                    }
                },
                y: {
                    type: 'linear',
                    min: yRange[0],
                    max: yRange[1],
                    afterFit: s => { s.width = axisW; },
                    afterBuildTicks: s => { s.ticks = yTicks.map(value => ({ value })); },
                    border: { display: false },
                    grid: { drawOnChartArea: false, tickLength: 5, tickColor: '#333' },
                    title: {
                        display: index % 3 === 0,
                        text: 'Bias',
                        color: '#000',
                        font: { family: FONT, size: 25.3 },
                        padding: { top: 8, bottom: 0 }
                    },
                    ticks: {
                        color: '#000',
                        padding: 0,
                        labelOffset: 2,
                        autoSkip: false,
                        font: { family: FONT, size: 23 },
                        callback: v => v.toFixed(1)
                    }
                }
            }
        }
    });

    addText('letter', letters[index], plotLeft + 4, plotTop - 26);
    addText('heading', 'log(<i>\u03b1</i>)', plotLeft + plotW / 2, plotTop + plotH + 26);
}

const plotLefts = [80, 495, 911];
const plotTops = [65, 508];

plotTops.forEach((top, row) => {
    plotLefts.forEach((left, col) => drawPanel(row * 3 + col, left, top));
});

addText('heading', rowTitles[0], 649, 5);
addText('heading', rowTitles[1], 649.5, 443);

// Legend for panel A only
const legend = document.createElement('div');
legend.id = 'legend';
seriesNames.forEach((name, i) => {
    const swatch = document.createElement('div');
    swatch.className = 'swatch';
    swatch.style.top = (12 + i * 29) + 'px';
    swatch.style.background = seriesColors[i];
    legend.appendChild(swatch);
    const label = document.createElement('div');
    label.className = 'legtxt';
    label.textContent = name;
    label.style.top = (3 + i * 29) + 'px';
    legend.appendChild(label);
});
page.appendChild(legend);
</script>
</body>
</html>
